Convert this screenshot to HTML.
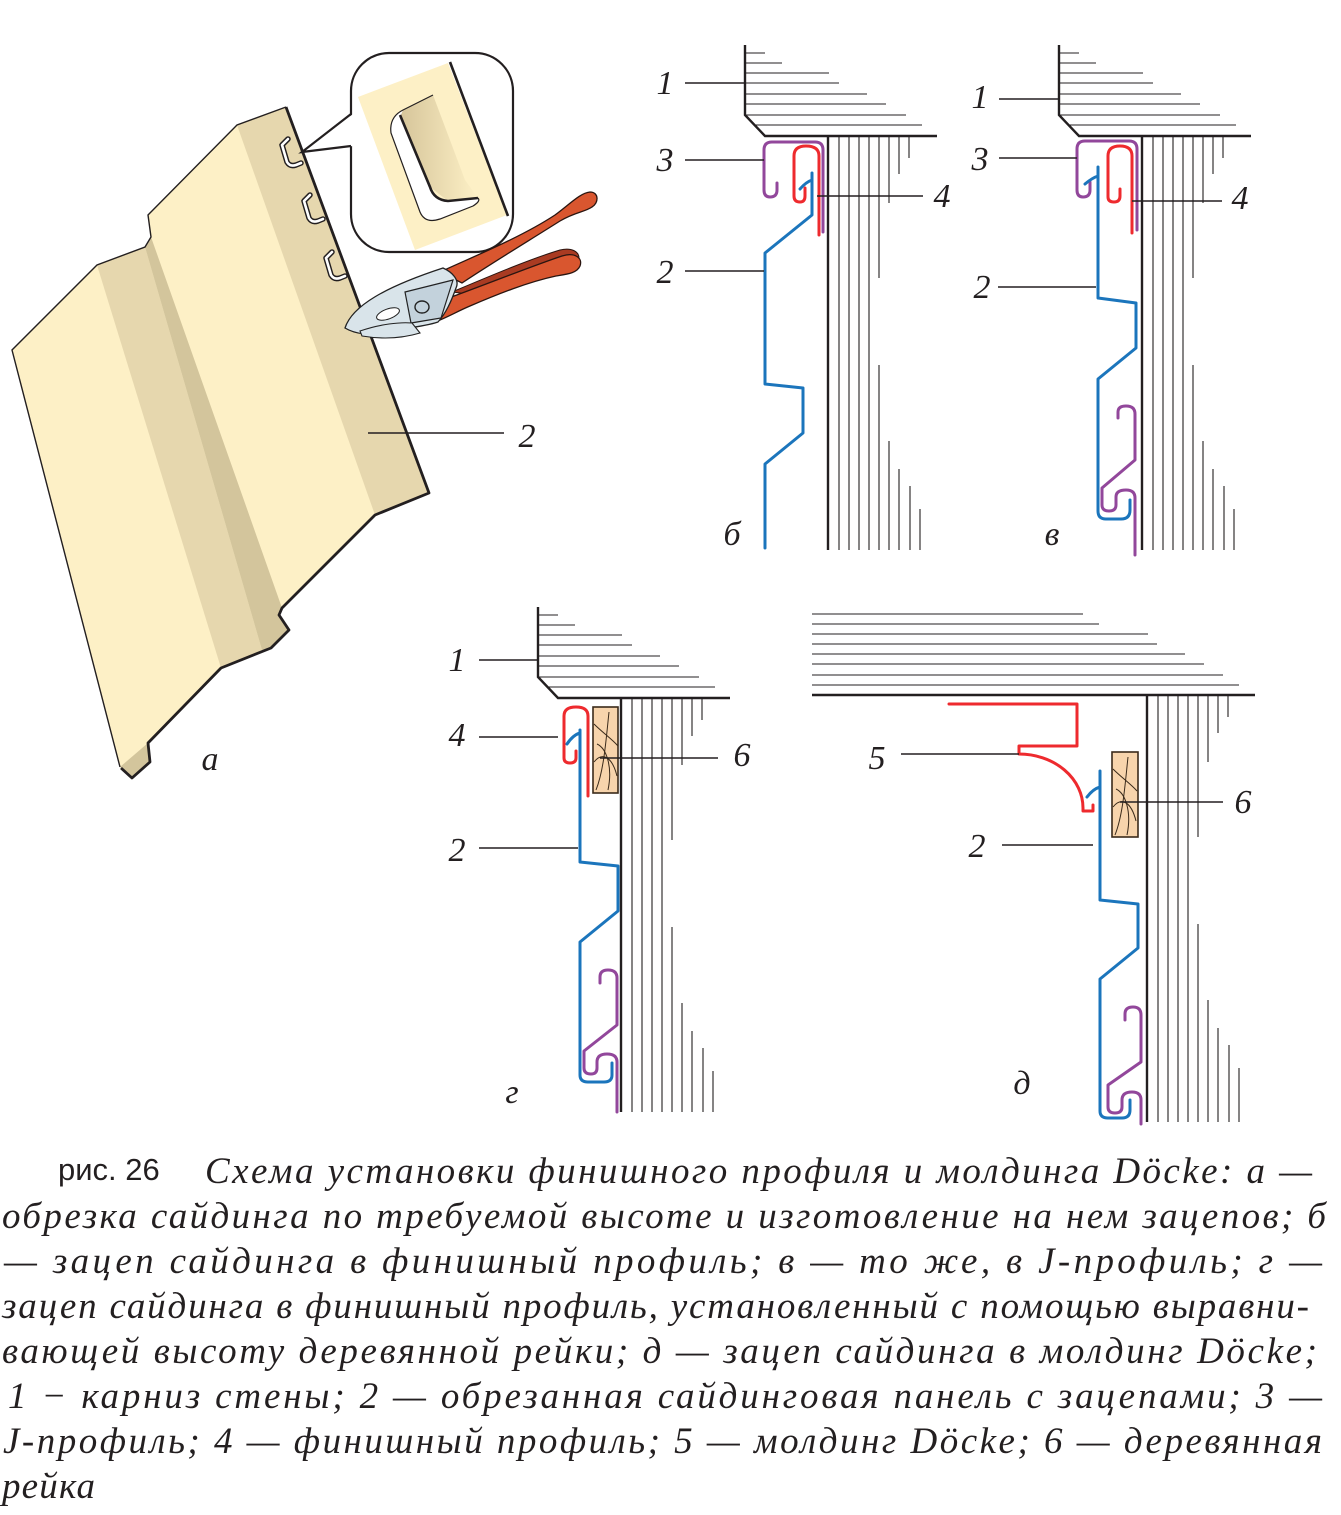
<!DOCTYPE html>
<html>
<head>
<meta charset="utf-8">
<style>
html,body{margin:0;padding:0;background:#fff;}
svg{display:block;}
.lbl{font-family:"Liberation Serif",serif;font-style:italic;font-size:34px;fill:#231f20;}
.cap{font-family:"Liberation Serif","Noto Serif CJK SC",serif;font-style:italic;font-size:37px;fill:#231f20;}
</style>
</head>
<body>
<svg width="1341" height="1515" viewBox="0 0 1341 1515" xmlns="http://www.w3.org/2000/svg">
<defs>
<linearGradient id="slotg" x1="0" y1="0" x2="1" y2="0">
<stop offset="0" stop-color="#d6c59a"/>
<stop offset="1" stop-color="#fdf0c6"/>
</linearGradient>
<g id="wallB" fill="none" stroke="#231f20">
<path d="M745,45 V115 L765,136 H937" stroke-width="2.4"/>
<path d="M745,53H765 M745,63H782 M745,73H829 M745,83H839 M745,94H867 M745,104H886 M745,115H906 M755,125H922" stroke-width="1.1"/>
<path d="M828,136V550" stroke-width="2.4"/>
<path d="M839,136V550 M849,136V550 M859,136V550 M869,136V550 M879,136V278 M879,365V550 M889,136V203 M889,441V550 M899,136V174 M899,469V550 M909,136V158 M910,486V550 M920,509V550" stroke-width="1.1"/>
</g>
</defs>

<!-- ===== Panel a ===== -->
<polygon points="237,125 286,107 429,493 375,515 282,608 279,615 289,630 271,648 221,668 148,743 150,762 132,778 123,768 120,767 12,350 97,265 145,247 151,237 148,215" fill="#fdf0c6"/>
<polygon points="237,125 286,107 429,493 375,515" fill="#e6d7ae"/>
<polygon points="97,265 145,247 262,650 221,668" fill="#e6d7ae"/>
<polygon points="145,247 151,237 282,608 279,615 289,630 271,648 262,650" fill="#d3c59c"/>
<polygon points="120,767 148,743 150,762 132,778" fill="#d3c59c"/>
<path d="M120,767 L12,350 L97,265 L145,247 L151,237 L148,215 L237,125 L286,107" fill="none" stroke="#231f20" stroke-width="1.4"/>
<path d="M286,107 L429,493 L375,515 L282,608 L279,615 L289,630 L271,648 L221,668 L148,743 L150,762 L132,778 L121,768" fill="none" stroke="#231f20" stroke-width="2.8" stroke-linejoin="round"/>
<!-- slots -->
<g fill="none" stroke-linecap="round" stroke-linejoin="round">
<path d="M288,139 L282,145 L287,162 Q290,167 296,165 L301,163" stroke="#231f20" stroke-width="5.5"/>
<path d="M288,139 L282,145 L287,162 Q290,167 296,165 L301,163" stroke="#fff" stroke-width="2.6"/>
<path d="M310,195 L304,201 L309,218 Q312,223 318,221 L323,219" stroke="#231f20" stroke-width="5.5"/>
<path d="M310,195 L304,201 L309,218 Q312,223 318,221 L323,219" stroke="#fff" stroke-width="2.6"/>
<path d="M332,252 L326,258 L331,275 Q334,280 340,278 L345,276" stroke="#231f20" stroke-width="5.5"/>
<path d="M332,252 L326,258 L331,275 Q334,280 340,278 L345,276" stroke="#fff" stroke-width="2.6"/>
</g>
<!-- callout -->
<rect x="351" y="53" width="162" height="199" rx="38" ry="38" fill="#fff" stroke="#231f20" stroke-width="2.2"/>
<polygon points="353,114 302,152 353,146" fill="#fff"/>
<path d="M351,114 L302,152 L351,146" fill="none" stroke="#231f20" stroke-width="2.2"/>
<polygon points="358,97 448,63 507,215 415,250" fill="#fdf0c6"/>
<path d="M450,62 L508,216" stroke="#231f20" stroke-width="2.6"/>
<polygon points="403,110 433,95 465,180 478,198 448,201 430,187 400,117" fill="url(#slotg)"/>
<path d="M403,110 Q389,117 391,133 L420,212 Q425,224 440,219 L473,206 Q481,201 478,198 L448,201 Q434,199 430,187 L400,117 Z" fill="#fff"/>
<path d="M433,95 L403,110 Q389,117 391,133 L420,212 Q425,224 440,219 L473,206 Q481,201 478,198" fill="none" stroke="#231f20" stroke-width="1.2"/>
<path d="M400,115 L430,187 Q434,200 448,201 L478,198" fill="none" stroke="#231f20" stroke-width="2.6"/>
<!-- pliers -->
<path d="M440,272 C470,258 520,238 555,215 C570,204 580,193 590,192 C599,192 599,203 592,207 C585,212 575,212 560,221 C530,240 492,263 462,283 Z" fill="#d9562f" stroke="#2a1510" stroke-width="1.3"/>
<path d="M452,292 C490,276 530,259 560,250 C572,247 579,252 579,258 C560,259 520,272 468,294 Z" fill="#a93b22" stroke="#2a1510" stroke-width="1"/>
<path d="M446,299 C490,283 532,266 562,256 C575,252 583,258 580,266 C577,273 568,274 556,276 C528,282 498,294 470,306 C458,311 446,318 435,322 Z" fill="#d9562f" stroke="#2a1510" stroke-width="1.3"/>
<path d="M345,328 C352,306 385,287 443,268 C452,272 460,280 456,288 C451,302 446,313 438,322 C420,328 400,328 385,332 C370,336 355,334 345,328 Z" fill="#d9e4ea" stroke="#222" stroke-width="1.3"/>
<path d="M405,292 L453,280 L441,318 L411,323 Z" fill="#c3d2dc" stroke="#222" stroke-width="1.2"/>
<ellipse cx="388" cy="314" rx="12" ry="5" transform="rotate(-20 388 314)" fill="#fff" stroke="#222" stroke-width="1"/>
<ellipse cx="422" cy="307" rx="7" ry="6" fill="#c3d2dc" stroke="#222" stroke-width="1.4"/>
<path d="M360,331 C380,324 400,322 412,323 L420,333 C400,339 380,339 362,336 Z" fill="#d9e4ea" stroke="#222" stroke-width="1.1"/>
<!-- a labels -->
<path d="M368,433 H504" stroke="#231f20" stroke-width="1.5"/>
<text class="lbl" x="527" y="447" text-anchor="middle">2</text>
<text class="lbl" x="210" y="770" text-anchor="middle">а</text>

<!-- ===== Diagram б ===== -->
<use href="#wallB"/>
<g fill="none" stroke-width="3" stroke-linecap="round" stroke-linejoin="round">
<path d="M777,183 L777,190 Q777,197 770,197 Q764,197 764,190 L764,150 Q764,142 772,142 L815,142 Q823,142 823,150 L823,232" stroke="#92479b"/>
<path d="M819,235 L819,156 Q819,146 806,146 Q794,146 794,156 L794,196 Q794,202 800,202 Q805,202 805,196 L805,188" stroke="#ee2a2e"/>
<path d="M800,189 Q806,182 812,180 M812,173 L812,215 L765,253 L765,384 L803,388 L803,433 L765,464 L765,548" stroke="#1b75bc"/>
</g>
<g stroke="#231f20" stroke-width="1.5">
<path d="M685,83H745 M685,160H764 M817,196H923 M685,271H764"/>
</g>
<text class="lbl" x="665" y="94" text-anchor="middle">1</text>
<text class="lbl" x="665" y="171" text-anchor="middle">3</text>
<text class="lbl" x="942" y="207" text-anchor="middle">4</text>
<text class="lbl" x="665" y="283" text-anchor="middle">2</text>
<text class="lbl" x="732" y="545" text-anchor="middle">б</text>

<!-- ===== Diagram в ===== -->
<use href="#wallB" transform="translate(314,0)"/>
<g fill="none" stroke-width="3" stroke-linecap="round" stroke-linejoin="round">
<path d="M1090,182 L1090,190 Q1090,197 1083,197 Q1077,197 1077,190 L1077,149 Q1077,141 1085,141 L1129,141 Q1137,141 1137,149 L1137,230" stroke="#92479b"/>
<path d="M1132,233 L1132,156 Q1132,146 1120,146 Q1108,146 1108,156 L1108,197 Q1108,202 1114,202 Q1120,202 1120,196 L1120,189" stroke="#ee2a2e"/>
<path d="M1085,184 Q1092,178 1098,176 M1098,167 L1098,298 L1136,303 L1136,348 L1098,379 L1098,511 Q1098,519 1106,519 L1121,519 Q1130,519 1130,510 L1130,500" stroke="#1b75bc"/>
<path d="M1118,418 L1118,412 Q1118,406 1126,406 Q1135,406 1135,414 L1135,460 L1102,488 L1102,505 Q1102,511 1109,511 Q1116,511 1116,505 L1116,497 Q1116,490 1126,490 Q1135,490 1135,498 L1135,555" stroke="#92479b"/>
</g>
<g stroke="#231f20" stroke-width="1.5">
<path d="M999,99H1059 M999,158H1077 M1132,201H1222 M998,287H1096"/>
</g>
<text class="lbl" x="980" y="108" text-anchor="middle">1</text>
<text class="lbl" x="980" y="170" text-anchor="middle">3</text>
<text class="lbl" x="1240" y="209" text-anchor="middle">4</text>
<text class="lbl" x="982" y="298" text-anchor="middle">2</text>
<text class="lbl" x="1052" y="545" text-anchor="middle">в</text>

<!-- ===== Diagram г ===== -->
<use href="#wallB" transform="translate(-207,562)"/>
<rect x="593" y="707" width="25" height="86" fill="#f7d4ac" stroke="#3a2a1a" stroke-width="1.6"/>
<g id="grain" fill="none" stroke="#3a2a1a" stroke-width="1">
<path d="M609,712 C606,740 604,770 596,790"/>
<path d="M594,724 C603,733 612,739 618,746"/>
<path d="M594,762 C602,752 612,756 617,776"/>
<path d="M597,744 C606,748 613,766 608,790"/>
</g>
<g fill="none" stroke-width="3" stroke-linecap="round" stroke-linejoin="round">
<path d="M588,796 L588,716 Q588,707 576,707 Q564,707 564,716 L564,758 Q564,763 570,763 Q576,763 576,758 L576,751" stroke="#ee2a2e"/>
<path d="M567,744 Q573,735 580,733 M580,730 L580,862 L618,866 L618,911 L580,942 L580,1075 Q580,1082 588,1082 L604,1082 Q612,1082 612,1075 L612,1063" stroke="#1b75bc"/>
<path d="M600,983 L600,977 Q600,970 608,970 Q617,970 617,978 L617,1025 L584,1051 L584,1068 Q584,1074 591,1074 Q597,1074 597,1068 L597,1062 Q597,1054 607,1054 Q617,1054 617,1062 L617,1112" stroke="#92479b"/>
</g>
<g stroke="#231f20" stroke-width="1.5">
<path d="M479,660H538 M479,737H558 M600,758H718 M479,848H578"/>
</g>
<text class="lbl" x="457" y="671" text-anchor="middle">1</text>
<text class="lbl" x="457" y="746" text-anchor="middle">4</text>
<text class="lbl" x="742" y="766" text-anchor="middle">6</text>
<text class="lbl" x="457" y="861" text-anchor="middle">2</text>
<text class="lbl" x="512" y="1103" text-anchor="middle">г</text>

<!-- ===== Diagram д ===== -->
<g fill="none" stroke="#231f20">
<path d="M812,614H1083 M812,624H1099 M812,634H1148 M812,644H1157 M812,654H1185 M812,664H1204 M812,675H1223 M812,685H1239" stroke-width="1.1"/>
<path d="M812,695H1255" stroke-width="2.4"/>
<path d="M1147,695V1122" stroke-width="2.4"/>
<path d="M1158,695V1122 M1168,695V1122 M1178,695V1122 M1188,695V1122 M1198,695V837 M1198,924V1122 M1208,695V762 M1208,1000V1122 M1218,695V733 M1218,1028V1122 M1228,695V717 M1229,1045V1122 M1239,1068V1122" stroke-width="1.1"/>
</g>
<rect x="1112" y="752" width="26" height="85" fill="#f7d4ac" stroke="#3a2a1a" stroke-width="1.6"/>
<g transform="translate(519,45)" fill="none" stroke="#3a2a1a" stroke-width="1">
<path d="M609,712 C606,740 604,770 596,790"/>
<path d="M594,724 C603,733 612,739 618,746"/>
<path d="M594,762 C602,752 612,756 617,776"/>
<path d="M597,744 C606,748 613,766 608,790"/>
</g>
<g fill="none" stroke-width="3" stroke-linecap="round" stroke-linejoin="round">
<path d="M949,704 L1077,704 L1077,746 L1019,746 L1019,754 A64,54 0 0 1 1083,808 L1083,811 L1093,811 L1093,805" stroke="#ee2a2e"/>
<path d="M1087,797 Q1093,789 1100,787 M1100,771 L1100,900 L1138,904 L1138,948 L1100,979 L1100,1111 Q1100,1118 1108,1118 L1122,1118 Q1130,1118 1130,1110 L1130,1100" stroke="#1b75bc"/>
<path d="M1125,1020 L1125,1014 Q1125,1007 1133,1007 Q1141,1007 1141,1015 L1141,1062 L1108,1085 L1108,1107 Q1108,1113 1115,1113 Q1122,1113 1122,1107 L1122,1100 Q1122,1092 1132,1092 Q1141,1092 1141,1100 L1141,1124" stroke="#92479b"/>
</g>
<g stroke="#231f20" stroke-width="1.5">
<path d="M901,754H1019 M1120,802H1223 M1002,845H1093"/>
</g>
<text class="lbl" x="877" y="769" text-anchor="middle">5</text>
<text class="lbl" x="1243" y="813" text-anchor="middle">6</text>
<text class="lbl" x="977" y="857" text-anchor="middle">2</text>
<text class="lbl" x="1022" y="1094" text-anchor="middle">д</text>

<!-- ===== Caption ===== -->
<text x="58" y="1180" font-family="Liberation Sans, sans-serif" font-size="31" fill="#231f20">рис. 26</text>
<text class="cap" x="205" y="1183" textLength="1107" lengthAdjust="spacing">Схема установки финишного профиля и молдинга Döcke:  а —</text>
<text class="cap" x="2" y="1228" textLength="1324" lengthAdjust="spacing">обрезка сайдинга по требуемой высоте и изготовление на нем зацепов;  б</text>
<text class="cap" x="4" y="1273" textLength="1318" lengthAdjust="spacing">— зацеп сайдинга в финишный профиль;  в — то же, в J-профиль;  г —</text>
<text class="cap" x="2" y="1318" textLength="1307" lengthAdjust="spacing">зацеп сайдинга в финишный профиль, установленный с помощью выравни-</text>
<text class="cap" x="2" y="1363" textLength="1315" lengthAdjust="spacing">вающей высоту деревянной рейки; д — зацеп сайдинга в молдинг Döcke;</text>
<text class="cap" x="8" y="1408" textLength="1314" lengthAdjust="spacing">1 − карниз стены; 2 — обрезанная сайдинговая панель с зацепами; 3 —</text>
<text class="cap" x="3" y="1453" textLength="1319" lengthAdjust="spacing">J-профиль; 4 — финишный профиль; 5 — молдинг Döcke; 6 — деревянная</text>
<text class="cap" x="2" y="1498" textLength="93" lengthAdjust="spacing">рейка</text>
</svg>
</body>
</html>
